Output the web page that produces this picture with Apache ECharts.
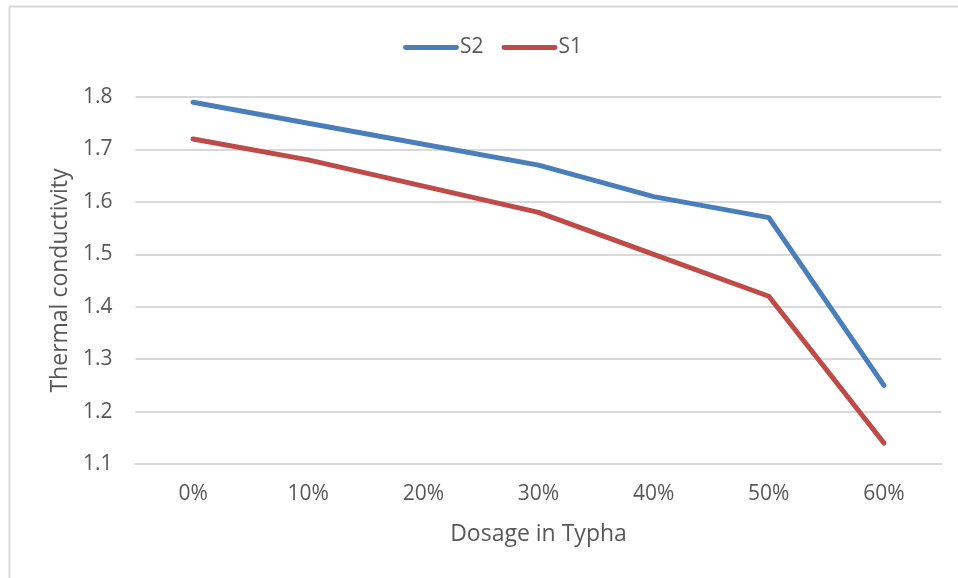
<!DOCTYPE html>
<html>
<head>
<meta charset="utf-8">
<script src="https://cdn.jsdelivr.net/npm/echarts@6/dist/echarts.min.js"></script>
<style>
  html, body { margin: 0; padding: 0; background: #fff; }
  #chart { width: 958px; height: 578px; }
</style>
</head>
<body>
<div id="chart"></div>
<script>
// Thermal conductivity vs. Typha dosage
const categories = ['0%', '10%', '20%', '30%', '40%', '50%', '60%'];
const s2Values = [1.79, 1.75, 1.71, 1.67, 1.61, 1.57, 1.25];
const s1Values = [1.72, 1.68, 1.63, 1.58, 1.50, 1.42, 1.14];
const yTicks = { min: 1.1, max: 1.8, step: 0.1 };

const FONT = '"Open Sans", "Liberation Sans", sans-serif';
const TEXT = '#595959';

const chart = echarts.init(document.getElementById('chart'), null, { renderer: 'canvas' });

chart.setOption({
  backgroundColor: '#ffffff',
  animation: false,
  textStyle: { fontFamily: FONT },
  graphic: [
    { type: 'line', shape: { x1: 9.5, y1: 6.5, x2: 958, y2: 6.5 }, style: { stroke: '#d9d9d9', lineWidth: 2 } },
    { type: 'line', shape: { x1: 9.5, y1: 6.5, x2: 9.5, y2: 578 }, style: { stroke: '#d9d9d9', lineWidth: 2 } }
  ],
  legend: {
    data: ['S2', 'S1'],
    top: 32,
    left: 398,
    itemWidth: 56,
    itemHeight: 5,
    itemGap: 18,
    icon: 'path://M2,0 L54,0 A2.5,2.5 0 0 1 54,5 L2,5 A2.5,2.5 0 0 1 2,0 Z',
    textStyle: { fontFamily: FONT, fontSize: 21, color: TEXT, padding: [0, 0, 0, -4] }
  },
  grid: { left: 135.5, right: 16.5, top: 97, bottom: 114 },
  xAxis: {
    type: 'category',
    data: categories,
    boundaryGap: true,
    name: 'Dosage in Typha',
    nameLocation: 'middle',
    nameGap: 59,
    nameTextStyle: { fontFamily: FONT, fontSize: 23, color: TEXT },
    axisLine: { show: true, lineStyle: { color: '#d9d9d9', width: 2 } },
    axisTick: { show: false },
    axisLabel: { fontFamily: FONT, fontSize: 21, color: TEXT, margin: 20 }
  },
  yAxis: {
    type: 'value',
    min: yTicks.min,
    max: yTicks.max,
    interval: yTicks.step,
    name: 'Thermal conductivity',
    nameLocation: 'middle',
    nameGap: 61,
    nameTextStyle: { fontFamily: FONT, fontSize: 23, color: TEXT },
    axisLine: { show: false },
    axisTick: { show: false },
    splitLine: { lineStyle: { color: '#d9d9d9', width: 2 } },
    axisLabel: {
      fontFamily: FONT, fontSize: 21, color: TEXT, margin: 23,
      formatter: v => v.toFixed(1)
    }
  },
  series: [
    {
      name: 'S2', type: 'line', data: s2Values,
      symbol: 'none', color: '#4a7ebb',
      lineStyle: { width: 5, color: '#4a7ebb', cap: 'round', join: 'round' }
    },
    {
      name: 'S1', type: 'line', data: s1Values,
      symbol: 'none', color: '#be4b48',
      lineStyle: { width: 5, color: '#be4b48', cap: 'round', join: 'round' }
    }
  ]
});
</script>
</body>
</html>
